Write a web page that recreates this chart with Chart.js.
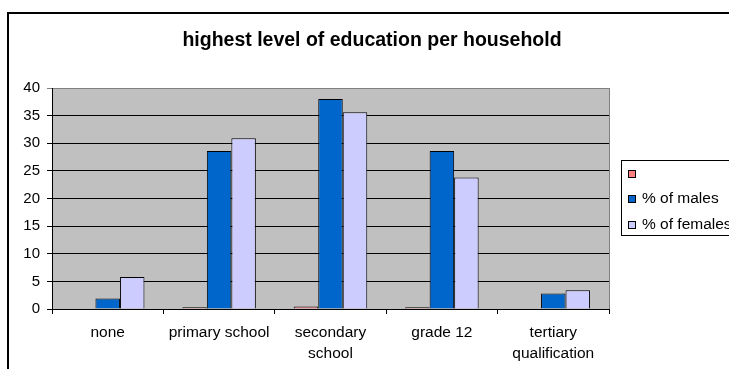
<!DOCTYPE html>
<html>
<head>
<meta charset="utf-8">
<title>highest level of education per household</title>
<script src="https://cdn.jsdelivr.net/npm/chart.js@4.4.1/dist/chart.umd.min.js"></script>
<style>
  html, body { margin: 0; padding: 0; background: #fff; }
  #chart { display: block; }
</style>
</head>
<body>
<canvas id="chart" width="729" height="369"></canvas>
<script>
// Values
const CHART_TITLE = 'highest level of education per household';
const categories = ['none', 'primary school', ['secondary', 'school'], 'grade 12', ['tertiary', 'qualification']];
const seriesNames = ['', '% of males', '% of females'];
const unnamedSeries = [null, 0.3, 0.45, 0.3, null];
const malesPct = [1.9, 28.6, 38.0, 28.6, 2.8];
const femalesPct = [5.8, 30.9, 35.6, 23.8, 3.4];
const yMax = 40;
const yStep = 5;

const FONT = 'Arial, "Liberation Sans", sans-serif';
Chart.defaults.color = '#000';
Chart.defaults.font.family = FONT;

/**
 * Draws the old spreadsheet look: outer frame, grey plot area, title and legend box.
 */
const excelLook = {
    id: 'excelLook',
    beforeDraw(chart) {
        const { ctx, chartArea: a } = chart;
        ctx.save();
        ctx.fillStyle = '#fff';
        ctx.fillRect(0, 0, chart.width, chart.height);
        // outer chart frame (runs off the right and bottom edge)
        ctx.strokeStyle = '#000';
        ctx.lineWidth = 2;
        ctx.strokeRect(8, 13, chart.width + 20, chart.height + 20);
        // plot background
        ctx.fillStyle = '#c0c0c0';
        ctx.fillRect(a.left, a.top, a.right - a.left, a.bottom - a.top);
        ctx.restore();
    },
    beforeDatasetsDraw(chart) {
        const { ctx, chartArea: a } = chart;
        ctx.save();
        ctx.strokeStyle = '#808080';
        ctx.lineWidth = 1;
        ctx.beginPath();
        ctx.moveTo(Math.round(a.right) + 0.5, a.top);
        ctx.lineTo(Math.round(a.right) + 0.5, a.bottom);
        ctx.stroke();
        ctx.restore();
    },
    afterDraw(chart) {
        const { ctx } = chart;
        ctx.save();
        // title
        ctx.fillStyle = '#000';
        ctx.font = 'bold 19.5px ' + FONT;
        ctx.textAlign = 'center';
        ctx.textBaseline = 'alphabetic';
        ctx.fillText(CHART_TITLE, 372, 46);

        // legend box
        ctx.strokeStyle = '#000';
        ctx.lineWidth = 1;
        ctx.strokeRect(621.5, 160.5, 130, 75);
        ctx.font = '15.5px ' + FONT;
        ctx.textAlign = 'left';
        ctx.textBaseline = 'middle';
        chart.data.datasets.forEach((ds, i) => {
            const yc = 173.5 + i * 25.5;
            ctx.fillStyle = ds.backgroundColor;
            ctx.fillRect(628, Math.round(yc) - 4, 8, 8);
            ctx.strokeRect(628.5, Math.round(yc) - 3.5, 7, 7);
            ctx.fillStyle = '#000';
            ctx.fillText(ds.label, 642, yc);
        });
        ctx.restore();
    }
};

const barStyle = { borderColor: '#000', borderWidth: 1 };

new Chart(document.getElementById('chart').getContext('2d'), {
    type: 'bar',
    data: {
        labels: categories,
        datasets: [
            { label: seriesNames[0], data: unnamedSeries, backgroundColor: '#ff8080', ...barStyle },
            { label: seriesNames[1], data: malesPct, backgroundColor: '#0066cc', ...barStyle },
            { label: seriesNames[2], data: femalesPct, backgroundColor: '#ccccff', ...barStyle }
        ]
    },
    options: {
        responsive: false,
        animation: false,
        layout: { padding: { top: 88, right: 120, left: 0, bottom: 0 } },
        datasets: { bar: { categoryPercentage: 0.66, barPercentage: 1 } },
        scales: {
            x: {
                afterFit: s => { s.height = 60; },
                grid: { drawOnChartArea: false, drawTicks: true, tickLength: 5, color: '#000' },
                border: { color: '#000', width: 1 },
                ticks: {
                    autoSkip: false, maxRotation: 0, padding: 9,
                    font: { size: 15.5, lineHeight: 1.3 }
                }
            },
            y: {
                min: 0,
                max: yMax,
                afterFit: s => { s.width = 52; },
                grid: {
                    tickLength: 5,
                    color: c => (c.tick && c.tick.value === yMax ? '#808080' : '#000')
                },
                border: { color: '#000', width: 1 },
                ticks: { stepSize: yStep, padding: 7, font: { size: 15 } }
            }
        },
        plugins: {
            legend: { display: false },
            title: { display: false },
            tooltip: { enabled: false }
        }
    },
    plugins: [excelLook]
});
</script>
</body>
</html>
